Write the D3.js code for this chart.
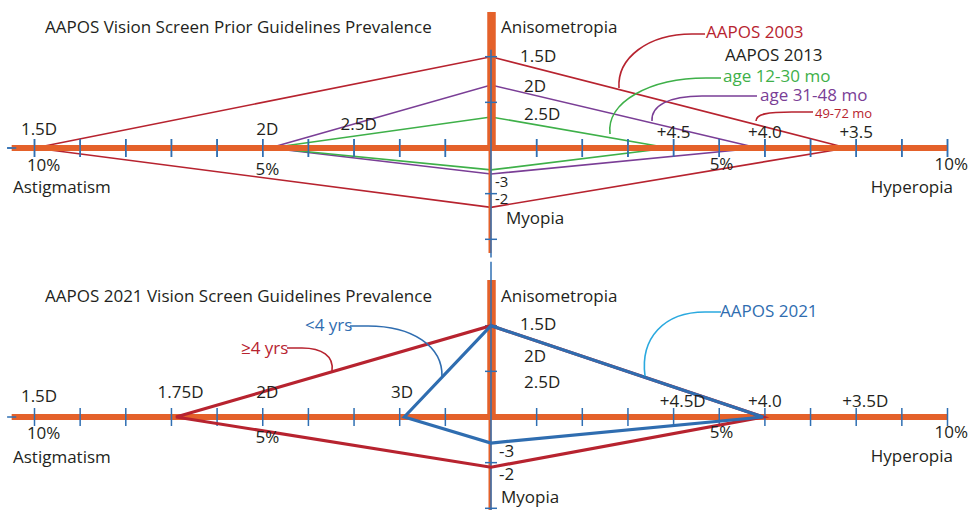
<!DOCTYPE html>
<html>
<head>
<meta charset="utf-8">
<script src="https://cdn.jsdelivr.net/npm/d3@7"></script>
<style>
  html, body { margin: 0; padding: 0; background: #fff; }
  svg text { font-family: "Open Sans", "Noto Sans", sans-serif; fill: #231f20; }
</style>
</head>
<body>
<svg id="chart" width="969" height="510"></svg>
<script>
// ---- Data (prevalence %, order: Astigmatism, Anisometropia, Hyperopia, Myopia) ----
const axisNames = ["Astigmatism", "Anisometropia", "Hyperopia", "Myopia"];
const aapos2003 = [10, 2.0, 7.8, 1.3];
const aapos2013Age12to30 = [4.85, 0.68, 3.9, 0.48];
const aapos2013Age31to48 = [4.85, 1.38, 5.85, 0.57];
const aapos2021Age4plus = [6.9, 2.0, 5.96, 1.1];
const aapos2021Under4 = [1.9, 2.0, 5.96, 0.57];

const percentTicks = [1, 2, 3, 4, 5, 6, 7, 8, 9, 10];
const verticalTicks = [2, 1, -1, -2];

const titles = ["AAPOS Vision Screen Prior Guidelines Prevalence", "AAPOS 2021 Vision Screen Guidelines Prevalence"];
const priorAstigLabels = ["1.5D", "2D", "2.5D"];
const priorHyperLabels = ["+4.5", "+4.0", "+3.5"];
const priorAnisoLabels = ["1.5D", "2D", "2.5D"];
const priorMyopiaLabels = ["-3", "-2"];
const newAstigLabels = ["1.5D", "1.75D", "2D", "3D"];
const newHyperLabels = ["+4.5D", "+4.0", "+3.5D"];
const newAnisoLabels = ["1.5D", "2D", "2.5D"];
const newMyopiaLabels = ["-3", "-2"];

// ---- Layout ----
const svg = d3.select("#chart");
const cx = 491;
const r = d3.scaleLinear().domain([0, 10]).range([0, 456.5]);
const ORANGE = "#e4612a", TICKBLUE = "#2f6fb3";
const RED = "#b7232f", GREEN = "#3eb049", PURPLE = "#7a3e96", BLUE = "#2f6db0", LIGHTBLUE = "#2aa9df";
const FS = 17;

function pts(vals, cy) {
  return [
    [cx - r(vals[0]), cy],
    [cx, cy - r(vals[1])],
    [cx + r(vals[2]), cy],
    [cx, cy + r(vals[3])]
  ];
}
const lineGen = d3.line().curve(d3.curveLinearClosed);

function drawPoly(g, vals, cy, color, w) {
  g.append("path").attr("d", lineGen(pts(vals, cy)))
    .attr("fill", "none").attr("stroke", color).attr("stroke-width", w)
    .attr("stroke-linejoin", "miter");
}

function drawAxes(g, cy, thickTop, thinBottom) {
  g.append("line").attr("x1", cx - r(10.5)).attr("x2", cx + r(10)).attr("y1", cy).attr("y2", cy)
    .attr("stroke", ORANGE).attr("stroke-width", 6);
  g.append("line").attr("x1", cx - 1).attr("x2", cx - 1).attr("y1", cy - r(thickTop)).attr("y2", cy + r(thinBottom))
    .attr("stroke", ORANGE).attr("stroke-width", 3);
  g.append("line").attr("x1", cx + 0.5).attr("x2", cx + 0.5).attr("y1", cy - r(thickTop)).attr("y2", cy)
    .attr("stroke", ORANGE).attr("stroke-width", 8.5);
}

function drawBlueAxis(g, cy, blueTop, blueBottom) {
  g.append("line").attr("x1", cx).attr("x2", cx).attr("y1", cy - r(blueTop)).attr("y2", cy + r(blueBottom))
    .attr("stroke", TICKBLUE).attr("stroke-width", 1.5);
  g.selectAll(".vt").data(verticalTicks).enter().append("line")
    .attr("x1", cx - 6).attr("x2", cx + 6)
    .attr("y1", d => cy - r(d)).attr("y2", d => cy - r(d))
    .attr("stroke", TICKBLUE).attr("stroke-width", 1.5);
}

function drawHTicks(g, cy) {
  const all = percentTicks.map(d => -d).concat(percentTicks);
  g.selectAll(".ht").data(all).enter().append("line")
    .attr("x1", d => cx + (d < 0 ? -r(-d) : r(d))).attr("x2", d => cx + (d < 0 ? -r(-d) : r(d)))
    .attr("y1", cy - 9).attr("y2", cy + 9)
    .attr("stroke", TICKBLUE).attr("stroke-width", 1.5);
  g.append("line").attr("x1", cx - r(10.6)).attr("x2", cx - r(10.4)).attr("y1", cy).attr("y2", cy)
    .attr("stroke", TICKBLUE).attr("stroke-width", 1.5);
}

function txt(g, s, x, y, anchor, size, color) {
  return g.append("text").attr("x", x).attr("y", y).attr("text-anchor", anchor || "start")
    .style("font-size", (size || FS) + "px").style("fill", color || "#231f20").text(s);
}

function leader(g, d, color) {
  g.append("path").attr("d", d).attr("fill", "none").attr("stroke", color).attr("stroke-width", 1.6);
}

// =============== TOP PANEL ===============
{
  const cy = 148;
  const g = svg.append("g");
  drawHTicks(g, cy);
  drawPoly(g, aapos2003, cy, RED, 1.6);
  drawPoly(g, aapos2013Age31to48, cy, PURPLE, 1.6);
  drawPoly(g, aapos2013Age12to30, cy, GREEN, 1.6);
  drawAxes(g, cy, 2.98, 2.3);
  drawBlueAxis(g, cy, 2.15, 2.4);
  drawHTicks(g, cy);

  txt(g, titles[0], 45, 33);
  txt(g, priorAstigLabels[0], cx - r(9.9), cy - 13, "middle");
  txt(g, priorAstigLabels[1], cx - r(4.9), cy - 13, "middle");
  txt(g, priorAstigLabels[2], cx - r(2.9), cy - 18, "middle");
  txt(g, "10%", cx - r(9.8), cy + 23, "middle");
  txt(g, "5%", cx - r(4.9), cy + 27, "middle");
  txt(g, axisNames[0], 13, cy + 45, "start");
  txt(g, priorHyperLabels[0], cx + r(4.0), cy - 10, "middle");
  txt(g, priorHyperLabels[1], cx + r(6.0), cy - 10, "middle");
  txt(g, priorHyperLabels[2], cx + r(8.0), cy - 10, "middle");
  txt(g, "5%", cx + r(5.05), cy + 22, "middle");
  txt(g, "10%", 968, cy + 22, "end");
  txt(g, axisNames[2], 953, cy + 45, "end");
  txt(g, axisNames[1], 501, 33, "start");
  txt(g, priorAnisoLabels[0], 520, 62, "start");
  txt(g, priorAnisoLabels[1], 524, 92, "start");
  txt(g, priorAnisoLabels[2], 524, 120, "start");
  txt(g, priorMyopiaLabels[0], 495, 187, "start", 15);
  txt(g, priorMyopiaLabels[1], 495, 204, "start", 15);
  txt(g, axisNames[3], 506, 224, "start");

  txt(g, "AAPOS 2003", 706, 38, "start", FS, RED);
  txt(g, "AAPOS 2013", 725, 61, "start", FS, "#231f20");
  txt(g, "age 12-30 mo", 723, 82, "start", FS, GREEN);
  txt(g, "age 31-48 mo", 760, 101, "start", FS, PURPLE);
  txt(g, "49-72 mo", 815, 118, "start", 13, RED);
  leader(g, "M705,34 L692,34 C648,34 617,58 619,88", RED);
  leader(g, "M721,78 L706,78 C650,78 606,102 610,134", GREEN);
  leader(g, "M757,96 L702,96 C668,96 651,106 652,121", PURPLE);
  leader(g, "M813,112 L792,112 C768,112 756,114 756,121", RED);
}

// =============== BOTTOM PANEL ===============
{
  const cy = 417;
  const g = svg.append("g");
  drawAxes(g, cy, 3.0, 2.1);
  drawBlueAxis(g, cy, 3.4, 2.1);
  drawHTicks(g, cy);
  drawPoly(g, aapos2021Age4plus, cy, RED, 3.2);
  drawPoly(g, aapos2021Under4, cy, BLUE, 3.2);

  txt(g, titles[1], 45, 302);
  txt(g, newAstigLabels[0], cx - r(9.9), cy - 15, "middle");
  txt(g, newAstigLabels[1], cx - r(6.8), cy - 19, "middle");
  txt(g, newAstigLabels[2], cx - r(4.9), cy - 19, "middle");
  txt(g, newAstigLabels[3], cx - r(1.95), cy - 19, "middle");
  txt(g, "10%", cx - r(9.8), cy + 22, "middle");
  txt(g, "5%", cx - r(4.9), cy + 26, "middle");
  txt(g, axisNames[0], 13, cy + 46, "start");

  txt(g, newHyperLabels[0], cx + r(4.2), cy - 10, "middle");
  txt(g, newHyperLabels[1], cx + r(6.0), cy - 10, "middle");
  txt(g, newHyperLabels[2], cx + r(8.2), cy - 10, "middle");
  txt(g, "5%", cx + r(5.05), cy + 21, "middle");
  txt(g, "10%", 968, cy + 21, "end");
  txt(g, axisNames[2], 953, cy + 45, "end");

  txt(g, axisNames[1], 501, 302, "start");
  txt(g, newAnisoLabels[0], 520, 330, "start");
  txt(g, newAnisoLabels[1], 524, 362, "start");
  txt(g, newAnisoLabels[2], 524, 388, "start");
  txt(g, newMyopiaLabels[0], 499, 457, "start");
  txt(g, newMyopiaLabels[1], 499, 480, "start");
  txt(g, axisNames[3], 501, 503, "start");

  txt(g, "<4 yrs", 305, 331, "start", FS, BLUE);
  txt(g, "≥4 yrs", 241, 354, "start", FS, RED);
  txt(g, "AAPOS 2021", 720, 317, "start", FS, BLUE);
  leader(g, "M350,326 L368,326 C412,326 443,346 442,377", BLUE);
  leader(g, "M287,348 L302,348 C322,348 334,356 332,371", RED);
  leader(g, "M721,312 L705,312 C664,312 640,338 645,376", LIGHTBLUE);
}
</script>
</body>
</html>
